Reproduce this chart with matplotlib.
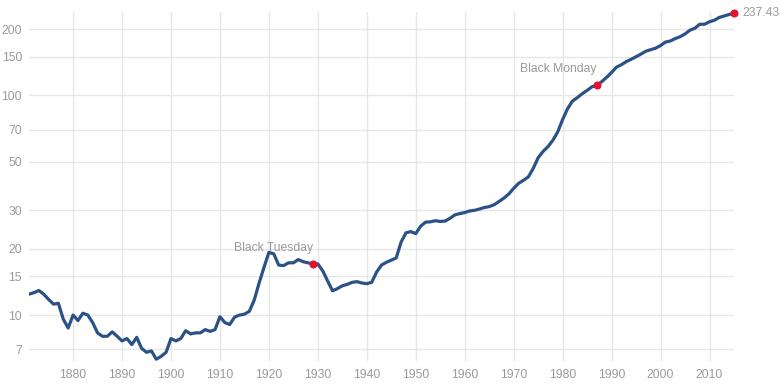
import matplotlib
matplotlib.use("Agg")
import matplotlib.pyplot as plt
from matplotlib.ticker import FixedLocator, NullLocator

plt.rcParams["font.family"] = ["Liberation Sans", "DejaVu Sans"]

# CPI, annual values (log scale)
years = list(range(1871, 2016))
cpi = [
    12.46, 12.65, 12.94, 12.46, 11.79, 11.22, 11.32, 9.59, 8.73, 10.01,   # 1871-1880
    9.44, 10.20, 10.01, 9.25, 8.30, 8.01, 8.01, 8.39, 8.01, 7.63,         # 1881-1890
    7.82, 7.34, 7.92, 7.06, 6.77, 6.87, 6.30, 6.49, 6.77, 7.82,           # 1891-1900
    7.63, 7.82, 8.49, 8.21, 8.30, 8.30, 8.59, 8.43, 8.59, 9.83,           # 1901-1910
    9.25, 9.06, 9.80, 10.0, 10.1, 10.4, 11.7, 14.0, 16.5, 19.3,           # 1911-1920
    19.0, 16.9, 16.8, 17.3, 17.3, 17.9, 17.5, 17.3, 17.1, 17.1,           # 1921-1930
    15.9, 14.3, 12.9, 13.2, 13.6, 13.8, 14.1, 14.2, 14.0, 13.9,           # 1931-1940
    14.1, 15.7, 16.9, 17.4, 17.8, 18.2, 21.5, 23.7, 24.0, 23.5,           # 1941-1950
    25.4, 26.5, 26.6, 26.9, 26.7, 26.8, 27.6, 28.6, 29.0, 29.3,           # 1951-1960
    29.8, 30.0, 30.4, 30.9, 31.2, 31.8, 32.9, 34.1, 35.6, 37.8,           # 1961-1970
    39.8, 41.1, 42.6, 46.6, 52.1, 55.6, 58.5, 62.5, 68.3, 77.8,           # 1971-1980
    87.0, 94.3, 97.8, 101.9, 105.5, 109.6, 111.2, 115.7, 121.1, 127.4,    # 1981-1990
    134.6, 138.1, 142.6, 146.2, 150.3, 154.4, 159.1, 161.6, 164.3, 168.8, # 1991-2000
    175.1, 177.1, 181.7, 185.2, 190.7, 198.3, 202.4, 211.1, 211.1, 216.7, # 2001-2010
    220.2, 226.7, 230.3, 233.9, 237.43,                                   # 2011-2015
]

events = ["Black Tuesday", "Black Monday"]
event_years = [1929, 1987]

y_ticks = [7, 10, 15, 20, 30, 50, 70, 100, 150, 200]
x_ticks = list(range(1880, 2011, 10))

line_color = "#2b5286"
dot_color = "#e8112d"
grey = "#9a9a9a"
grid_color = "#e6e6e6"
fs = 8.7

fig = plt.figure(figsize=(7.8, 3.84), dpi=100)
ax = fig.add_axes([29 / 780, 23 / 384, 705 / 780, 349 / 384])

ax.plot(years, cpi, color=line_color, lw=2.3, solid_joinstyle="round", zorder=3)

ax.set_yscale("log")
ax.set_xlim(1871, 2015)
ax.set_ylim(6.18, 240)

ax.yaxis.set_major_locator(FixedLocator(y_ticks))
ax.yaxis.set_minor_locator(NullLocator())
ax.set_yticklabels([str(v) for v in y_ticks])
ax.set_xticks(x_ticks)

ax.grid(True, color=grid_color, lw=1)
ax.set_axisbelow(True)
for s in ax.spines.values():
    s.set_visible(False)
ax.tick_params(length=0, colors=grey, labelsize=fs)
ax.tick_params(axis="y", pad=5)
ax.tick_params(axis="x", pad=6)

# event markers
for name, yr in zip(events, event_years):
    val = cpi[years.index(yr)]
    ax.plot(yr, val, "o", color=dot_color, ms=4.8, zorder=4)
    ax.annotate(name, (yr, val), xytext=(0, 16), textcoords="offset pixels",
                ha="right", va="center", color=grey, fontsize=fs)

# last value
ax.plot(years[-1], cpi[-1], "o", color=dot_color, ms=4.8, zorder=4, clip_on=False)
ax.annotate(f"{cpi[-1]:.2f}", (years[-1], cpi[-1]), xytext=(8, 0),
            textcoords="offset pixels", ha="left", va="center",
            color=grey, fontsize=fs, annotation_clip=False)

fig.savefig("out.png", dpi=100)
